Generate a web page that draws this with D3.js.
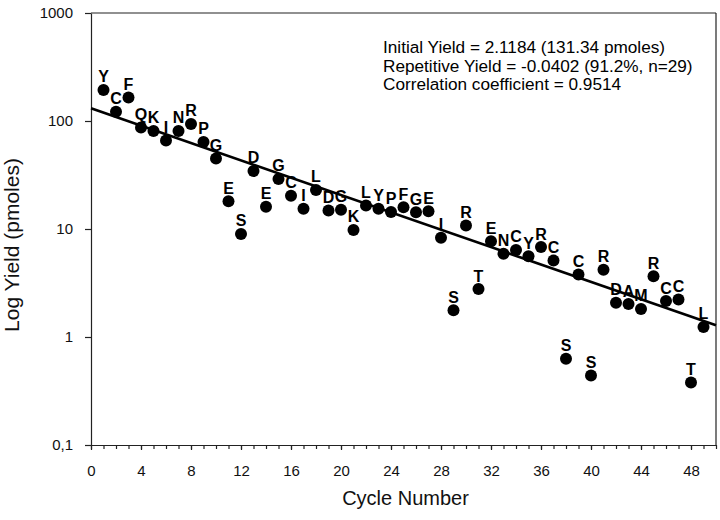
<!DOCTYPE html>
<html>
<head>
<meta charset="utf-8">
<script src="https://cdn.jsdelivr.net/npm/d3@7"></script>
<style>
  html, body { margin: 0; padding: 0; background: #fff; }
  svg { display: block; }
  text { font-family: "Liberation Sans", Arial, sans-serif; }
</style>
</head>
<body>
<svg id="chart" width="720" height="520"></svg>
<script>
// ---- data ----
const cycles = [1,2,3,4,5,6,7,8,9,10,11,12,13,14,15,16,17,18,19,20,21,22,23,24,25,26,27,28,29,30,31,32,33,34,35,36,37,38,39,40,41,42,43,44,45,46,47,48,49];
const residues = ["Y","C","F","Q","K","I","N","R","P","G","E","S","D","E","G","C","I","L","D","G","K","L","Y","P","F","G","E","I","S","R","T","E","N","C","Y","R","C","S","C","S","R","D","A","M","R","C","C","T","L"];
const yields = [194,122,165,87,81,66,81,94,64,45,18.1,9.0,34.5,16.1,29.1,20.3,15.4,23.0,14.8,15.1,9.8,16.5,15.4,14.4,15.9,14.3,14.6,8.3,1.77,10.8,2.78,7.7,5.9,6.4,5.6,6.8,5.1,0.63,3.8,0.44,4.2,2.08,2.02,1.82,3.66,2.15,2.22,0.38,1.24];
const xTicks = [0,4,8,12,16,20,24,28,32,36,40,44,48];
const yTicks = [0.1,1,10,100,1000];
const yTickLabels = ["0,1","1","10","100","1000"];
const fitIntercept = 2.1184;   // log10 yield at cycle 0
const fitSlope = -0.0402;      // log10 per cycle
const fitCycles = [0,50];
const notes = ["Initial Yield = 2.1184 (131.34 pmoles)",
               "Repetitive Yield = -0.0402 (91.2%, n=29)",
               "Correlation coefficient = 0.9514"];

// ---- layout ----
const svg = d3.select("#chart");
const x = d3.scaleLinear().domain([0,50]).range([91,716]);
const y = d3.scaleLog().domain([0.1,1000]).range([445,13]);

// frame (top & right)
svg.append("line").attr("x1", x(0)).attr("x2", x(50)).attr("y1", y(1000)).attr("y2", y(1000))
  .attr("stroke", "#222").attr("stroke-width", 1.2);
svg.append("line").attr("x1", x(50)).attr("x2", x(50)).attr("y1", y(1000)).attr("y2", y(0.1))
  .attr("stroke", "#222").attr("stroke-width", 1.2);

// y axis
const yAxis = svg.append("g").attr("transform", `translate(${x(0)},0)`)
  .call(d3.axisLeft(y).tickValues(yTicks).tickFormat((d,i)=>yTickLabels[i])
        .tickSize(6).tickSizeOuter(0).tickPadding(12));
yAxis.selectAll("text").attr("font-size", 15).attr("fill", "#111")
  .attr("font-family", '"Liberation Sans", Arial, sans-serif');

// x axis minor ticks
const minor = d3.range(0, 51, 1);
const xMinor = svg.append("g").attr("transform", `translate(0,${y(0.1)})`)
  .call(d3.axisBottom(x).tickValues(minor).tickFormat("").tickSize(4).tickSizeOuter(0));
xMinor.select(".domain").remove();
// x axis major
const xAxis = svg.append("g").attr("transform", `translate(0,${y(0.1)})`)
  .call(d3.axisBottom(x).tickValues(xTicks).tickFormat(d3.format("d"))
        .tickSize(5).tickSizeOuter(0).tickPadding(15));
xAxis.selectAll("text").attr("font-size", 15).attr("fill", "#111")
  .attr("font-family", '"Liberation Sans", Arial, sans-serif');
svg.selectAll(".domain, .tick line").attr("stroke", "#222").attr("stroke-width", 1.2);

// regression line
const fit = d3.line().x(d => x(d)).y(d => y(Math.pow(10, fitIntercept + fitSlope * d)));
svg.append("path").datum(fitCycles).attr("d", fit)
  .attr("fill", "none").attr("stroke", "#000").attr("stroke-width", 2.6);

// points
const pts = cycles.map((c,i) => ({c, r: residues[i], v: yields[i]}));
svg.append("g").selectAll("circle").data(pts).join("circle")
  .attr("cx", d => x(d.c)).attr("cy", d => y(d.v)).attr("r", 6).attr("fill", "#000");
svg.append("g").selectAll("text").data(pts).join("text")
  .attr("x", d => x(d.c)).attr("y", d => y(d.v) - 7.5)
  .attr("text-anchor", "middle").attr("font-size", 16).attr("font-weight", "bold")
  .attr("fill", "#000").text(d => d.r);

// annotation
svg.append("g").selectAll("text").data(notes).join("text")
  .attr("x", 383).attr("y", (d,i) => 53 + i * 18.5)
  .attr("font-size", 17.2).attr("fill", "#000").text(d => d);

// axis titles
svg.append("text").attr("x", (x(0)+x(50))/2 + 2).attr("y", 505)
  .attr("text-anchor", "middle").attr("font-size", 20).attr("fill", "#111").text("Cycle Number");
svg.append("text").attr("transform", "translate(19,245) rotate(-90)")
  .attr("text-anchor", "middle").attr("font-size", 21).attr("fill", "#111").text("Log Yield (pmoles)");
</script>
</body>
</html>
